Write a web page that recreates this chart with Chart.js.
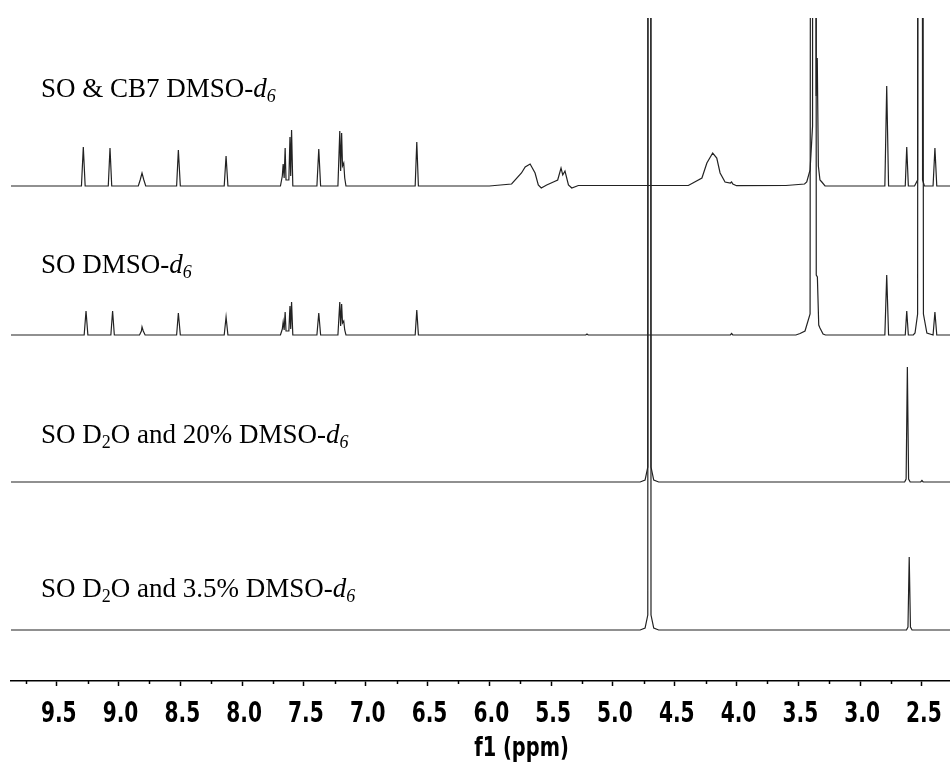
<!DOCTYPE html>
<html>
<head>
<meta charset="utf-8">
<script src="https://cdn.jsdelivr.net/npm/chart.js@4.4.0/dist/chart.umd.min.js"></script>
<style>
  html, body { margin: 0; padding: 0; background: #fff; }
  #wrap { width: 950px; height: 764px; position: relative; }
</style>
</head>
<body>
<div id="wrap"><canvas id="nmr"></canvas></div>
<script>
//#region data

//chemical shift range shown (ppm), axis runs high -> low
const ppmMin = 2.273;
const ppmMax = 9.87;
const tickStep = 0.25;
const axisTitle = 'f1 (ppm)';

//vertical shift of each trace in the stack, top trace first
const stackOffsets = [495, 346, 199, 51];

//SO & CB7 in DMSO-d6 (top trace)
const cb7Ppm = [9.87, 9.30, 9.285, 9.27, 9.083, 9.069, 9.055, 8.84, 8.825, 8.81, 8.795, 8.78,
	8.53, 8.516, 8.50, 8.145, 8.13, 8.115,
	7.69, 7.675, 7.668, 7.66, 7.652, 7.645, 7.622, 7.613, 7.607, 7.60, 7.59,
	7.395, 7.38, 7.365, 7.225, 7.21, 7.203, 7.195, 7.188, 7.178, 7.17, 7.16,
	6.60, 6.587, 6.574,
	6.0, 5.82, 5.74, 5.71, 5.67, 5.63, 5.604, 5.58, 5.536, 5.482, 5.447, 5.42, 5.406, 5.388, 5.36, 5.333, 5.28,
	4.39, 4.28, 4.24, 4.193, 4.16, 4.133, 4.093, 4.05, 4.04, 4.03, 4.0,
	3.6, 3.45, 3.432, 3.405, 3.385, 3.38, 3.368, 3.356, 3.347, 3.338, 3.325, 3.31, 3.284,
	2.80, 2.785, 2.77, 2.635, 2.623, 2.61,
	2.56, 2.535, 2.522, 2.51, 2.495, 2.48, 2.41, 2.395, 2.38, 2.273];
const cb7Int = [0, 0, 39, 0, 0, 38, 0, 0, 6, 13, 6, 0,
	0, 36, 0, 0, 30, 0,
	0, 10, 22, 8, 38, 6, 6, 49, 10, 56, 0,
	0, 37, 0, 0, 55, 15, 53, 20, 23, 8, 0,
	0, 44, 0,
	0, 2, 13, 19, 22, 13, 1, -2, 1, 4, 6, 18, 11, 15, 1, -2, 0.5,
	0.5, 8, 23, 33, 28, 13, 4, 3, 4, 2, 0.3,
	0.5, 2, 4, 16, 60, 3000, 3000, 90, 128, 20, 6, 4, 0,
	0, 100, 0, 0, 39, 0,
	0, 6, 3000, 3000, 6, 0, 0, 38, 0, 0];

//SO in DMSO-d6
const dmsoPpm = [9.87, 9.278, 9.263, 9.248, 9.062, 9.048, 9.034, 8.83, 8.815, 8.81, 8.80, 8.785,
	8.53, 8.516, 8.50, 8.145, 8.13, 8.115,
	7.69, 7.675, 7.668, 7.66, 7.652, 7.645, 7.622, 7.613, 7.607, 7.60, 7.59,
	7.395, 7.38, 7.365, 7.225, 7.21, 7.203, 7.195, 7.188, 7.178, 7.17, 7.16,
	6.60, 6.587, 6.574, 5.22, 5.21, 5.20, 4.05, 4.04, 4.03,
	3.52, 3.486, 3.446, 3.405, 3.385, 3.365, 3.355, 3.346, 3.335, 3.325, 3.30, 3.28,
	2.80, 2.785, 2.77, 2.635, 2.623, 2.61,
	2.57, 2.556, 2.535, 2.522, 2.51, 2.488, 2.46, 2.41, 2.395, 2.38, 2.273];
const dmsoInt = [0, 0, 24, 0, 0, 24, 0, 0, 4, 8, 4, 0,
	0, 22, 0, 0, 18, 0,
	0, 6, 13, 5, 23, 4, 4, 29, 6, 33, 0,
	0, 22, 0, 0, 33, 9, 31, 12, 14, 5, 0,
	0, 25, 0, 0, 1, 0, 0, 1.5, 0,
	0, 1.5, 4, 21, 3000, 3000, 60, 58, 10, 7, 1, 0,
	0, 60, 0, 0, 24, 0,
	0, 2, 21, 3000, 3000, 21, 2, 0, 23, 0, 0];

//SO in D2O with 20% DMSO-d6
const d2o20Ppm = [9.87, 4.78, 4.74, 4.718, 4.712, 4.698, 4.692, 4.67, 4.63,
	2.70, 2.64, 2.628, 2.618, 2.608, 2.595, 2.51, 2.50, 2.49, 2.273];
const d2o20Int = [0, 0, 2, 15, 3000, 3000, 15, 2, 0,
	0, 0, 3, 115, 3, 0, 0, 1.5, 0, 0];

//SO in D2O with 3.5% DMSO-d6 (bottom trace)
const d2o35Ppm = [9.87, 4.78, 4.74, 4.718, 4.712, 4.698, 4.692, 4.67, 4.63,
	2.625, 2.613, 2.603, 2.593, 2.58, 2.273];
const d2o35Int = [0, 0, 2, 15, 3000, 3000, 15, 2, 0,
	0, 3, 73, 3, 0, 0];

//trace captions, split in runs: '' plain, 'i' italic, 's' subscript, 'is' italic subscript
const captions = [
	[['SO & CB7 DMSO-', ''], ['d', 'i'], ['6', 'is']],
	[['SO DMSO-', ''], ['d', 'i'], ['6', 'is']],
	[['SO D', ''], ['2', 's'], ['O and 20% DMSO-', ''], ['d', 'i'], ['6', 'is']],
	[['SO D', ''], ['2', 's'], ['O and 3.5% DMSO-', ''], ['d', 'i'], ['6', 'is']]
];

//#endregion

//#region layout
const captionX = 41;
const captionBaselines = [97, 273, 443, 597];
const serif = "'Liberation Serif', 'Times New Roman', serif";
const axisFont = "'DejaVu Sans', sans-serif";
const squeeze = 0.72; //the axis font is a narrow bold face, so squeeze DejaVu
const lineColor = '#222';
//#endregion

const traces = [
	{ ppm: cb7Ppm, val: cb7Int },
	{ ppm: dmsoPpm, val: dmsoInt },
	{ ppm: d2o20Ppm, val: d2o20Int },
	{ ppm: d2o35Ppm, val: d2o35Int }
];

const isMajor = (v) => Math.abs(v * 2 - Math.round(v * 2)) < 1e-6;

function narrowText(ctx, text, x, y, size) {
	ctx.save();
	ctx.font = 'bold ' + size + 'px ' + axisFont;
	ctx.textAlign = 'center';
	ctx.textBaseline = 'alphabetic';
	ctx.translate(x, y);
	ctx.scale(squeeze, 1);
	ctx.fillText(text, 0, 0);
	ctx.restore();
}

//minor ticks, tick labels, captions and axis title are drawn here
const decorations = {
	id: 'decorations',
	afterDraw(chart) {
		const ctx = chart.ctx;
		const xs = chart.scales.x;
		const area = chart.chartArea;
		ctx.save();
		ctx.strokeStyle = '#000';
		ctx.fillStyle = '#000';
		ctx.lineWidth = 1.5;

		xs.ticks.forEach((t) => {
			const px = xs.getPixelForValue(t.value);
			if (isMajor(t.value)) {
				narrowText(ctx, t.value.toFixed(1), px + 2, 722, 28);
				return;
			}
			//short minor tick
			const mx = Math.round(px) + 0.5;
			ctx.beginPath();
			ctx.moveTo(mx, area.bottom);
			ctx.lineTo(mx, area.bottom + 3);
			ctx.stroke();
		});

		//captions above each trace
		ctx.textBaseline = 'alphabetic';
		captions.forEach((runs, k) => {
			let x = captionX;
			const y = captionBaselines[k];
			runs.forEach(([text, style]) => {
				const italic = style.includes('i') ? 'italic ' : '';
				const sub = style.includes('s');
				ctx.font = italic + (sub ? '18px ' : '27px ') + serif;
				ctx.fillText(text, x, sub ? y + 5 : y);
				x += ctx.measureText(text).width;
			});
		});

		//axis title
		narrowText(ctx, axisTitle, (area.left + area.right) / 2 + 41, 756, 27);
		ctx.restore();
	}
};

const chart = new Chart(document.getElementById('nmr'), {
	type: 'line',
	data: {
		datasets: traces.map((tr, k) => ({
			data: tr.ppm.map((p, i) => ({ x: p, y: stackOffsets[k] + tr.val[i] })),
			borderColor: lineColor,
			borderWidth: 1.2,
			pointRadius: 0,
			tension: 0,
			fill: false
		}))
	},
	options: {
		responsive: true,
		maintainAspectRatio: false,
		animation: false,
		layout: { padding: { top: 18, left: 11, right: 0, bottom: 0 } },
		plugins: { legend: { display: false }, tooltip: { enabled: false } },
		scales: {
			x: {
				type: 'linear',
				reverse: true,
				min: ppmMin,
				max: ppmMax,
				afterFit: (s) => { s.height = 83; },
				border: { display: true, color: '#000', width: 1.5 },
				grid: {
					drawOnChartArea: false,
					drawTicks: true,
					tickLength: 5,
					tickWidth: 1.5,
					tickColor: (c) => (c.tick && isMajor(c.tick.value) ? '#000' : 'rgba(0,0,0,0)')
				},
				ticks: {
					stepSize: tickStep,
					includeBounds: false,
					autoSkip: false,
					maxRotation: 0,
					display: false
				}
			},
			y: { display: false, min: 0, max: 663 }
		}
	},
	plugins: [decorations]
});
</script>
</body>
</html>
